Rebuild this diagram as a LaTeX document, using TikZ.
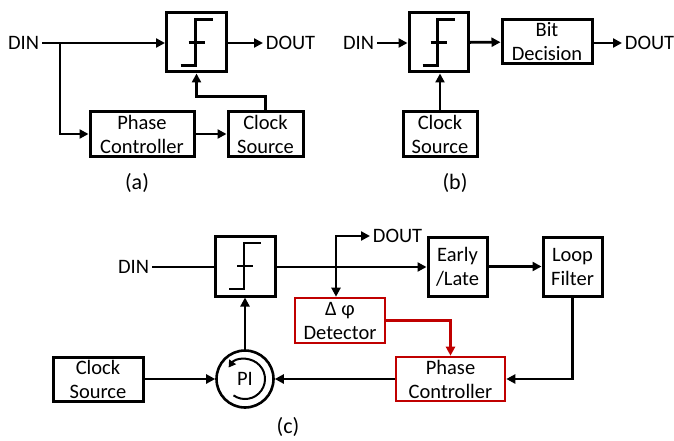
\documentclass[tikz,border=0pt]{standalone}
\usepackage{fontspec}
\setmainfont{Carlito}
\usetikzlibrary{arrows.meta}

\definecolor{boxred}{RGB}{192,0,0}
\newcommand{\labfont}{\fontsize{20.5}{24}\selectfont}
% step symbol of the decision circuit
\newcommand{\stepmark}[1]{%
  \draw ([shift={(-16,23)}]#1.center) -- ++(15,0) -- ++(0,-46) -- ++(17,0);
  \draw ([shift={(-8,0)}]#1.center) -- ++(16,0);}

\begin{document}
\begin{tikzpicture}[x=1pt,y=-1pt,>={Triangle[length=9pt,width=9pt]},line width=2.8pt,
  every node/.style={font=\labfont,inner sep=1.5pt},
  box/.style={draw,line width=3pt,align=center,inner sep=0pt},
  redbox/.style={box,draw=boxred,line width=2.6pt},
  sublabel/.style={font=\fontsize{22}{26}\selectfont}]
\useasboundingbox (0,0) rectangle (674,441);

% (a)
\node[box,minimum width=60pt,minimum height=59pt] (compA) at (196.5,42.5) {};
\stepmark{compA}
\node[box,minimum width=104pt,minimum height=44pt] (pcA) at (142,134) {Phase\\Controller};
\node[box,minimum width=75pt,minimum height=44pt] (csA) at (265.5,134) {Clock\\Source};
\node[anchor=east] (dinA) at (42,43) {DIN};
\node[anchor=west] (doutA) at (263,43) {DOUT};
\node[sublabel] (labA) at (137,183) {(a)};
\coordinate (brA) at (60,43);
\draw[->] (dinA.east) -- (dinA.east -| compA.west);
\draw[->] (brA) |- (pcA.west);
\draw[->] (pcA) -- (csA);
\draw[->] (csA.north) -- ++(0,-14) -| (compA.south);
\draw[->] (compA.east |- doutA.west) -- (doutA.west);

% (b)
\node[box,minimum width=59pt,minimum height=59pt] (compB) at (438.5,42.5) {};
\stepmark{compB}
\node[box,minimum width=90pt,minimum height=44pt] (bitB) at (547,42) {Bit\\Decision};
\node[box,minimum width=74pt,minimum height=44pt] (csB) at (440,134) {Clock\\Source};
\node[anchor=east] (dinB) at (377,43) {DIN};
\node[anchor=west] (doutB) at (622,43) {DOUT};
\node[sublabel] (labB) at (455,183) {(b)};
\draw[->] (dinB.east) -- (dinB.east -| compB.west);
\draw[->] (compB) -- (bitB);
\draw[->] (bitB.east |- doutB.west) -- (doutB.west);
\draw[->] (csB.north) -- (csB.north |- compB.south);

% (c)
\node[box,minimum width=60pt,minimum height=60pt] (compC) at (245,266) {};
\stepmark{compC}
\node[box,minimum width=59pt,minimum height=59pt] (elC) at (457.5,266.5) {Early\\/Late};
\node[box,minimum width=59pt,minimum height=59pt] (lfC) at (572.5,266.5) {Loop\\Filter};
\node[redbox,minimum width=90pt,minimum height=45pt] (detC) at (340,320.5) {Δ φ\\Detector};
\node[redbox,minimum width=109pt,minimum height=44pt] (pcC) at (450.5,379) {Phase\\Controller};
\node[box,minimum width=90pt,minimum height=44pt] (csC) at (98,379) {Clock\\Source};
\node[draw,circle,line width=2.6pt,minimum size=57pt,inner sep=0pt] (piC) at (245,379) {PI};
\node[anchor=east] (dinC) at (152,267) {DIN};
\node[anchor=west] (doutC) at (370,236) {DOUT};
\node[sublabel] (labC) at (288,427) {(c)};
\coordinate (brC) at (336,267);
\draw (dinC.east) -- (dinC.east -| compC.west);
\draw[->] (compC.east |- brC) -- (brC -| elC.west);
\draw[->] (brC) |- (doutC.west);
\draw[->] (brC) -- (brC |- detC.north);
\draw[->] (elC) -- (lfC);
\draw[->] (lfC.south) |- (pcC.east);
\draw[->,boxred] (detC.east) -| (pcC.north);
\draw[->] (pcC.west) -- (piC.east);
\draw[->] (csC) -- (piC);
\draw[->] (piC) -- (compC);
\draw[line width=2pt,->,>={Triangle[length=7pt,width=8pt]}]
  ([shift={(-125:20pt)}]piC.center) arc[start angle=-125,end angle=145,radius=20pt];
\end{tikzpicture}
\end{document}
